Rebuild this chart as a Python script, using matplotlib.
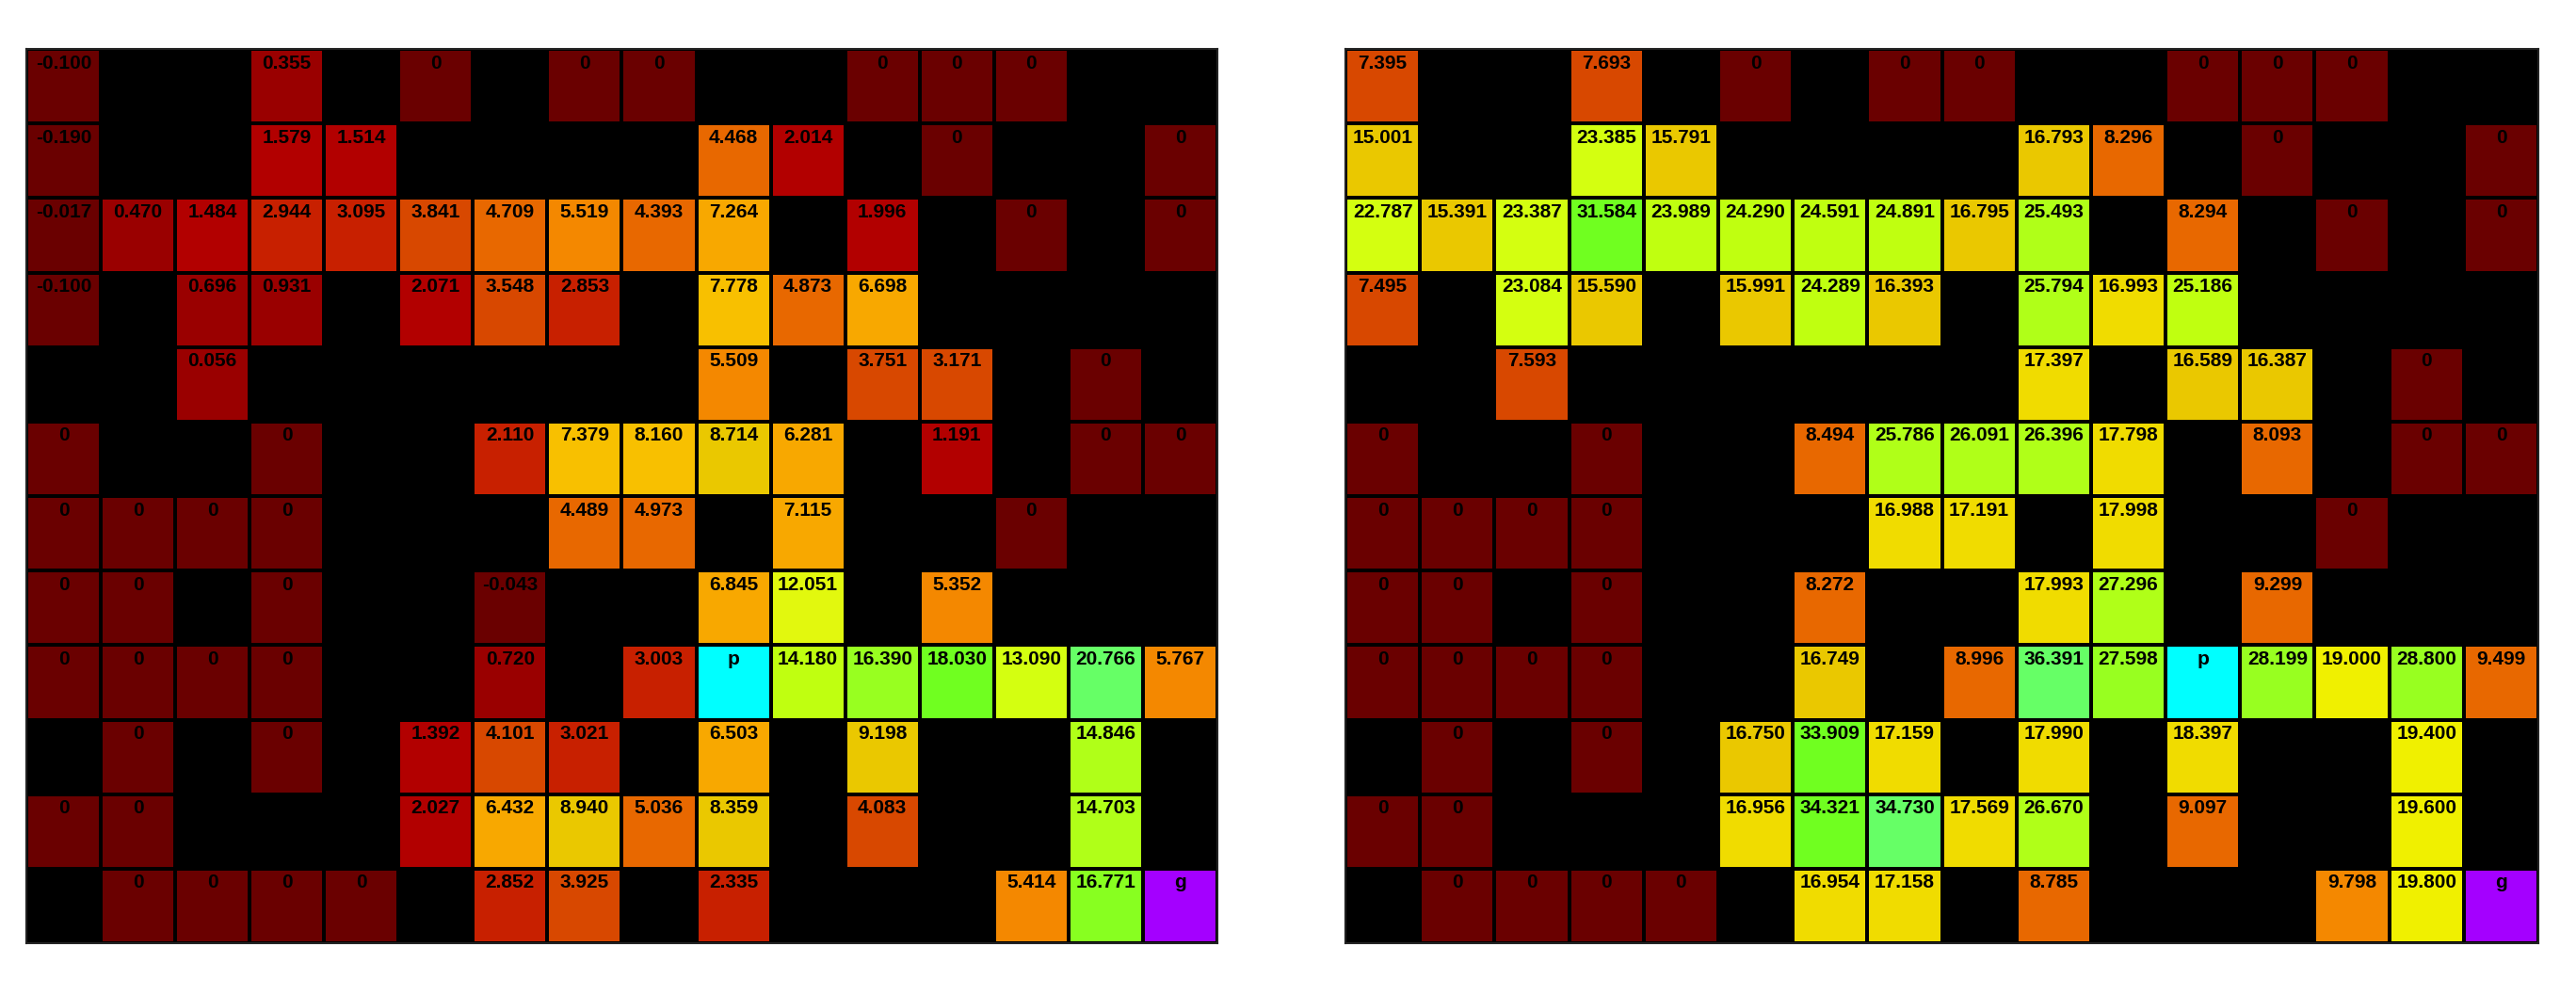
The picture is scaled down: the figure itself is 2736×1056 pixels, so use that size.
import numpy as np
import matplotlib
matplotlib.use('Agg')
import matplotlib.pyplot as plt
from matplotlib.colors import ListedColormap, BoundaryNorm

plt.rcParams['font.family'] = ['Liberation Sans', 'DejaVu Sans']

# None = wall, 'p' = player, 'g' = goal
N = None
left_vals = [
    [-0.100, N, N, 0.355, N, 0, N, 0, 0, N, N, 0, 0, 0, N, N],
    [-0.190, N, N, 1.579, 1.514, N, N, N, N, 4.468, 2.014, N, 0, N, N, 0],
    [-0.017, 0.470, 1.484, 2.944, 3.095, 3.841, 4.709, 5.519, 4.393, 7.264, N, 1.996, N, 0, N, 0],
    [-0.100, N, 0.696, 0.931, N, 2.071, 3.548, 2.853, N, 7.778, 4.873, 6.698, N, N, N, N],
    [N, N, 0.056, N, N, N, N, N, N, 5.509, N, 3.751, 3.171, N, 0, N],
    [0, N, N, 0, N, N, 2.110, 7.379, 8.160, 8.714, 6.281, N, 1.191, N, 0, 0],
    [0, 0, 0, 0, N, N, N, 4.489, 4.973, N, 7.115, N, N, 0, N, N],
    [0, 0, N, 0, N, N, -0.043, N, N, 6.845, 12.051, N, 5.352, N, N, N],
    [0, 0, 0, 0, N, N, 0.720, N, 3.003, 'p', 14.180, 16.390, 18.030, 13.090, 20.766, 5.767],
    [N, 0, N, 0, N, 1.392, 4.101, 3.021, N, 6.503, N, 9.198, N, N, 14.846, N],
    [0, 0, N, N, N, 2.027, 6.432, 8.940, 5.036, 8.359, N, 4.083, N, N, 14.703, N],
    [N, 0, 0, 0, 0, N, 2.852, 3.925, N, 2.335, N, N, N, 5.414, 16.771, 'g'],
]

right_vals = [
    [7.395, N, N, 7.693, N, 0, N, 0, 0, N, N, 0, 0, 0, N, N],
    [15.001, N, N, 23.385, 15.791, N, N, N, N, 16.793, 8.296, N, 0, N, N, 0],
    [22.787, 15.391, 23.387, 31.584, 23.989, 24.290, 24.591, 24.891, 16.795, 25.493, N, 8.294, N, 0, N, 0],
    [7.495, N, 23.084, 15.590, N, 15.991, 24.289, 16.393, N, 25.794, 16.993, 25.186, N, N, N, N],
    [N, N, 7.593, N, N, N, N, N, N, 17.397, N, 16.589, 16.387, N, 0, N],
    [0, N, N, 0, N, N, 8.494, 25.786, 26.091, 26.396, 17.798, N, 8.093, N, 0, 0],
    [0, 0, 0, 0, N, N, N, 16.988, 17.191, N, 17.998, N, N, 0, N, N],
    [0, 0, N, 0, N, N, 8.272, N, N, 17.993, 27.296, N, 9.299, N, N, N],
    [0, 0, 0, 0, N, N, 16.749, N, 8.996, 36.391, 27.598, 'p', 28.199, 19.000, 28.800, 9.499],
    [N, 0, N, 0, N, 16.750, 33.909, 17.159, N, 17.990, N, 18.397, N, N, 19.400, N],
    [0, 0, N, N, N, 16.956, 34.321, 34.730, 17.569, 26.670, N, 9.097, N, N, 19.600, N],
    [N, 0, 0, 0, 0, N, 16.954, 17.158, N, 8.785, N, N, N, 9.798, 19.800, 'g'],
]

# stepped value colours (fraction of the panel's min..max range)
level_cols = ['#9a0000', '#b20000', '#c82000', '#d84800', '#e86800', '#f48800',
              '#f8a800', '#f8c000', '#eac800', '#f0dc00', '#f0f000', '#e2f80e',
              '#d4ff10', '#c0ff10', '#b0ff18', '#98ff20', '#88ff20', '#70ff20',
              '#66ff66']
level_edges = [0.060, 0.1088, 0.158, 0.215, 0.263, 0.29, 0.358, 0.405, 0.4635,
               0.514, 0.56, 0.61, 0.65, 0.696, 0.754, 0.80, 0.84, 0.95]
cmap = ListedColormap(level_cols)
cmap.set_under('#6a0000')
special_cmap = ListedColormap(['#00ffff', '#a400ff'])


def draw_grid(ax, grid):
    nr, nc = len(grid), len(grid[0])
    vals = np.full((nr, nc), np.nan)
    spec = np.full((nr, nc), np.nan)
    for i, row in enumerate(grid):
        for j, v in enumerate(row):
            if v == 'p':
                spec[i, j] = 0
            elif v == 'g':
                spec[i, j] = 1
            elif v is not None:
                vals[i, j] = v
    vmin, vmax = np.nanmin(vals), np.nanmax(vals)
    bounds = [1e-9] + [vmin + f * (vmax - vmin) for f in level_edges] + [vmax + 1]
    norm = BoundaryNorm(bounds, cmap.N)
    ax.set_facecolor('black')
    ax.pcolormesh(np.ma.masked_invalid(vals), cmap=cmap, norm=norm,
                  edgecolors='black', linewidth=1.5)
    ax.pcolormesh(np.ma.masked_invalid(spec), cmap=special_cmap, vmin=0, vmax=1,
                  edgecolors='black', linewidth=1.5)
    for i, row in enumerate(grid):
        for j, v in enumerate(row):
            if v is None:
                continue
            if isinstance(v, str):
                s = v
            elif v == 0:
                s = '0'
            else:
                s = '%.3f' % v
            ax.text(j + 0.5, i + 0.07, s, ha='center', va='top',
                    fontsize=15, fontweight='bold', color='black')
    ax.set_xlim(0, nc)
    ax.set_ylim(nr, 0)
    ax.set_xticks([])
    ax.set_yticks([])
    for sp in ax.spines.values():
        sp.set_color('#222222')
        sp.set_linewidth(1.5)


fig = plt.figure(figsize=(27.36, 10.56), dpi=100)
ax1 = fig.add_axes([0.0102, 0.0511, 0.4624, 0.8996])
ax2 = fig.add_axes([0.5223, 0.0511, 0.4631, 0.8996])
draw_grid(ax1, left_vals)
draw_grid(ax2, right_vals)

plt.savefig('out.png', dpi=100)
